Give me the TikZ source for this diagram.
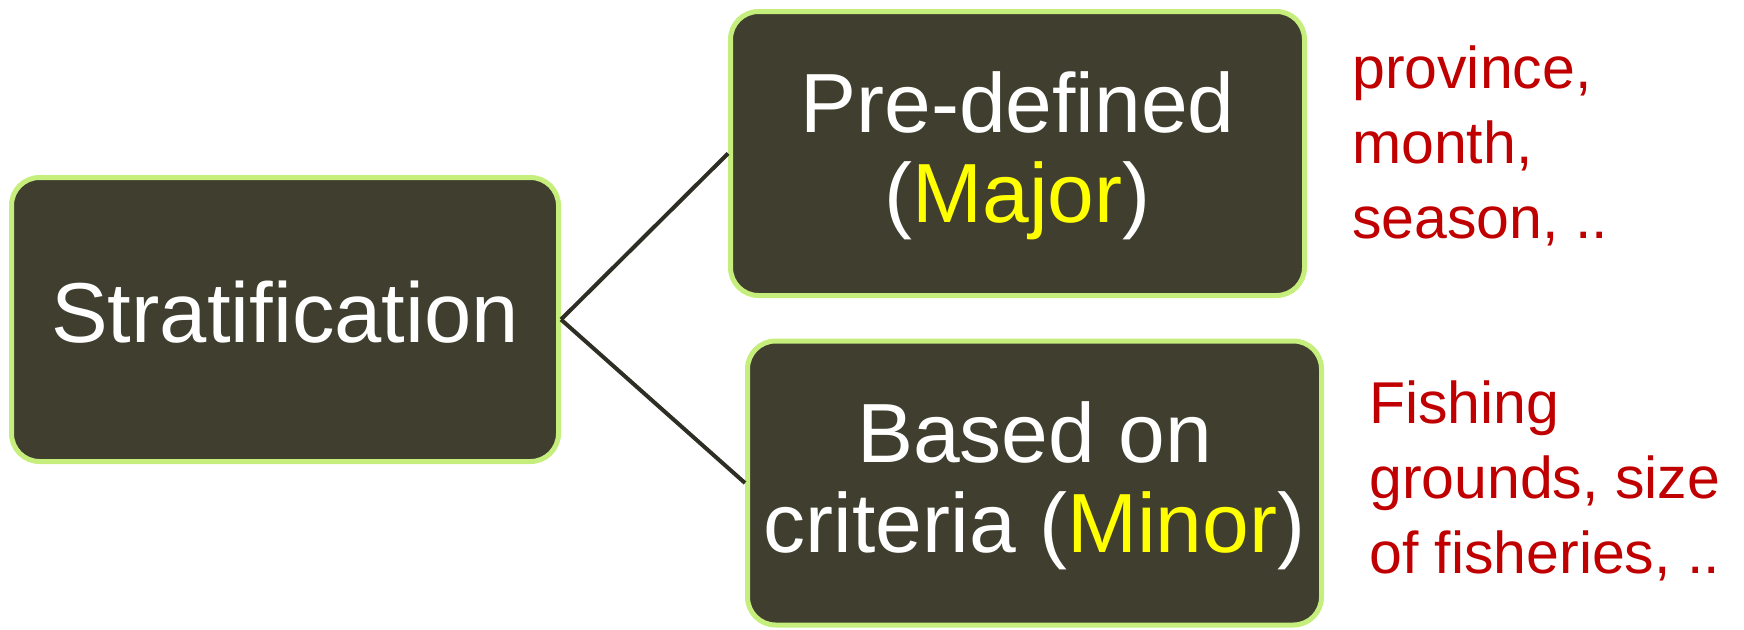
\documentclass[tikz,border=0pt]{standalone}
\usepackage{fontspec}
\setmainfont{Liberation Sans}
\definecolor{boxfill}{RGB}{63,62,47}
\definecolor{boxedge}{RGB}{198,238,124}
\definecolor{linkcol}{RGB}{46,46,36}
\definecolor{majcol}{RGB}{255,255,0}
\definecolor{notecol}{RGB}{192,0,0}
\newcommand\shifttext[2]{\raisebox{#1}[\height][\depth]{\begin{tabular}{@{}c@{}}#2\end{tabular}}}
\tikzset{
  catbox/.style={draw=boxedge, line width=5pt, fill=boxfill, rounded corners=28pt,
    minimum width=574pt, minimum height=284pt, text=white, align=center, inner sep=0pt,
    font=\fontsize{84}{90}\selectfont},
  link/.style={draw=linkcol, line width=4pt},
  note/.style={text=notecol, align=left, inner sep=0pt, anchor=base west,
    font=\fontsize{59}{75}\selectfont}
}
\begin{document}
\begin{tikzpicture}[x=1pt,y=-1pt]
\useasboundingbox (0,0) rectangle (1744,629);
\node[catbox, minimum width=547pt, font=\fontsize{85}{90}\selectfont] (strat) at (285,319.5) {\raisebox{7pt}[\height][\depth]{Stratification}};
\node[catbox] (pre) at (1017.5,153.5) {\shifttext{-6pt}{Pre-defined\\(\textcolor{majcol}{Major})}};
\node[catbox] (crit) at (1034.5,483) {\shifttext{-6pt}{Based on\\criteria (\textcolor{majcol}{Minor})}};
\draw[link] (strat.east) -- (pre.west);
\draw[link] (strat.east) -- (crit.west);
\node[note] (prenote) at (1352,238) {province,\\month,\\season, ..};
\node[note] (critnote) at (1369,573) {Fishing\\grounds, size\\of fisheries, ..};
\end{tikzpicture}
\end{document}
